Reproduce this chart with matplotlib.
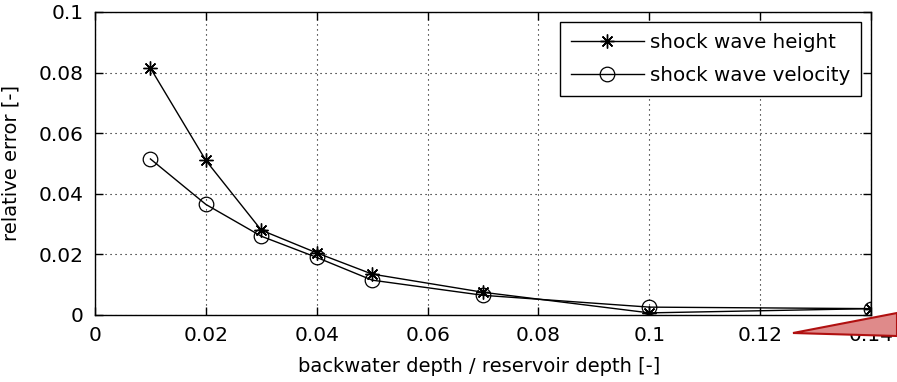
import matplotlib
import matplotlib.pyplot as plt
from matplotlib.patches import Polygon

matplotlib.use("Agg")

plt.rcParams["font.family"] = ["DejaVu Sans"]

# ratio backwater depth / reservoir depth
depth_ratio = [0.01, 0.02, 0.03, 0.04, 0.05, 0.07, 0.10, 0.14]
err_height = [0.0815, 0.051, 0.028, 0.0205, 0.0135, 0.0075, 0.0007, 0.0021]
err_velocity = [0.0515, 0.0365, 0.026, 0.019, 0.0115, 0.0065, 0.0026, 0.0021]

xticks = [0, 0.02, 0.04, 0.06, 0.08, 0.1, 0.12, 0.14]
xtick_labels = ["0", "0.02", "0.04", "0.06", "0.08", "0.1", "0.12", "0.14"]
yticks = [0, 0.02, 0.04, 0.06, 0.08, 0.1]
ytick_labels = ["0", "0.02", "0.04", "0.06", "0.08", "0.1"]

fig = plt.figure(figsize=(8.97, 3.82), dpi=100)
ax = fig.add_axes([0.1059, 0.1754, 0.8652, 0.7932])

ax.plot(depth_ratio, err_height, color="black", lw=1, marker=(8, 2, 0),
        markersize=10, markeredgewidth=1, label="shock wave height")
ax.plot(depth_ratio, err_velocity, color="black", lw=1, marker="o",
        markersize=10.5, markerfacecolor="none", markeredgewidth=0.9,
        label="shock wave velocity")

ax.set_xlim(0, 0.14)
ax.set_ylim(0, 0.1)
ax.set_xticks(xticks)
ax.set_xticklabels(xtick_labels)
ax.set_yticks(yticks)
ax.set_yticklabels(ytick_labels)
ax.tick_params(direction="in", length=6, width=1, top=True, right=True,
               labelsize=14.5, pad=8)
ax.grid(True, color="black", linestyle=(0, (1, 3.5)), linewidth=0.8)
for s in ax.spines.values():
    s.set_linewidth(1)

ax.set_xlabel("backwater depth / reservoir depth [-]", fontsize=14)
ax.xaxis.set_label_coords(0.495, -0.138)
ax.set_ylabel("relative error [-]", fontsize=14)
ax.yaxis.set_label_coords(-0.0966, 0.5)

leg = ax.legend(loc="upper right", fontsize=14.3, frameon=True, fancybox=False,
                edgecolor="black", framealpha=1, handlelength=3.7,
                borderpad=0.55, labelspacing=0.7, borderaxespad=0.5,
                handletextpad=0.3)
leg.get_frame().set_linewidth(1)

# red page-curl triangle in the corner
tri = Polygon([[793 / 897, 1 - 333 / 382], [1.0, 1 - 313 / 382],
               [1.0, 1 - 336 / 382]], closed=True, transform=fig.transFigure,
              facecolor="#df8a8a", edgecolor="#b01010", lw=1.5, zorder=10)
fig.patches.append(tri)

fig.savefig("out.png", dpi=100)
plt.close(fig)
